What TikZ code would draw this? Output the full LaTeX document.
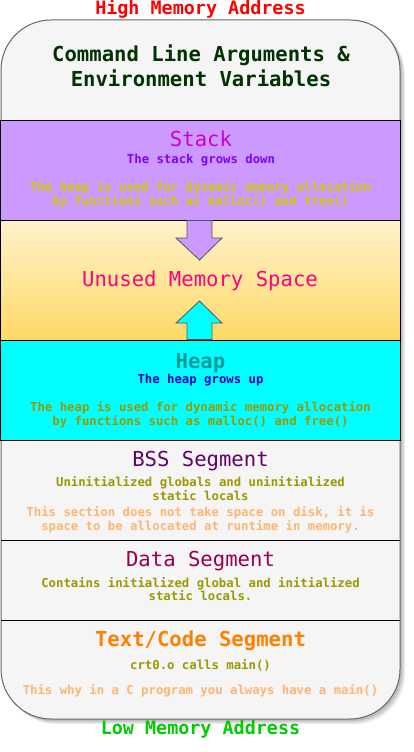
\documentclass[tikz,border=0pt]{standalone}
\usepackage{fontspec}
\newfontfamily\mono{DejaVu Sans Mono}
\definecolor{outerfill}{HTML}{F5F5F5}
\definecolor{outerdraw}{HTML}{666666}
\definecolor{stackfill}{HTML}{CC99FF}
\definecolor{unusedtop}{HTML}{FFF2CC}
\definecolor{unusedbot}{HTML}{FFD966}
\definecolor{heapfill}{HTML}{00FFFF}
\definecolor{highred}{HTML}{FF0000}
\definecolor{lowgreen}{HTML}{00CC00}
\definecolor{cmdgreen}{HTML}{003300}
\definecolor{stacktitle}{HTML}{CC00CC}
\definecolor{stacksub}{HTML}{7F00FF}
\definecolor{stacknote}{HTML}{CCCC00}
\definecolor{unusedpink}{HTML}{FF0080}
\definecolor{heaptitle}{HTML}{009999}
\definecolor{heapsub}{HTML}{0000CC}
\definecolor{heapnote}{HTML}{999900}
\definecolor{bsstitle}{HTML}{660066}
\definecolor{olive}{HTML}{999900}
\definecolor{lightorange}{HTML}{FFB570}
\definecolor{datatitle}{HTML}{99004D}
\definecolor{texttitle}{HTML}{FF8000}
\definecolor{arrowdraw}{HTML}{555555}
\begin{document}
\begin{tikzpicture}[x=1pt,y=-1pt,
  title/.style={font=\mono\fontsize{20.6}{24}\selectfont, anchor=base, inner sep=0pt},
  boldtitle/.style={font=\mono\bfseries\fontsize{20.6}{24}\selectfont, anchor=base, inner sep=0pt},
  small/.style={font=\mono\bfseries\fontsize{12.3}{14}\selectfont, anchor=base, inner sep=0pt},
  addr/.style={font=\mono\bfseries\fontsize{18.4}{22}\selectfont, anchor=base, inner sep=0pt},
  band/.style={draw=black, line width=1pt},
  blockarrow/.style={draw=arrowdraw, line width=0.8pt, line join=miter}]
\useasboundingbox (0,0) rectangle (413,752);
% shadow of the outer box
\foreach \s/\o in {2/0.10,3.5/0.10,5/0.08}{
  \begin{scope}[shift={(\s,\s)}]
    \fill[black, opacity=\o, rounded corners=50pt] (1,20) rectangle (400,719);
  \end{scope}}
% outer box
\draw[fill=outerfill, draw=outerdraw, line width=1pt, rounded corners=50pt] (1,20) rectangle (400,719);
% bands
\draw[band, fill=stackfill] (0,120) rectangle (400,220);
\draw[band, top color=unusedtop, bottom color=unusedbot] (0,220) rectangle (400,340);
\draw[band, fill=heapfill] (0,340) rectangle (400,440);
\draw[band] (1,540) -- (400,540);
\draw[band] (1,620) -- (400,620);
% block arrows
\draw[blockarrow, fill=stackfill] (187,220.5) -- (212,220.5) -- (212,238) -- (222,238) -- (199.5,260) -- (176,238) -- (187,238) -- cycle;
\draw[blockarrow, fill=heapfill] (187,339.5) -- (187,323) -- (176,323) -- (199.5,301) -- (222,323) -- (212,323) -- (212,339.5) -- cycle;
% address labels
\node[addr, text=highred] (high) at (200.5,15) {High Memory Address};
\node[addr, text=lowgreen] (low) at (200.5,734) {Low Memory Address};
% command line
\node[boldtitle, text=cmdgreen] (cmd1) at (201,62) {Command Line Arguments \&};
\node[boldtitle, text=cmdgreen] (cmd2) at (201,86) {Environment Variables};
% stack
\node[title, text=stacktitle] (stack) at (201,146.7) {Stack};
\node[small, text=stacksub] (stacksub) at (201,163.3) {The stack grows down};
\node[small, text=stacknote] (stacknote1) at (200.5,191.7) {The heap is used for dynamic memory allocation};
\node[small, text=stacknote] (stacknote2) at (200.5,205.7) {by functions such as malloc() and free()};
% unused
\node[title, text=unusedpink] (unused) at (200,286.7) {Unused Memory Space};
% heap
\node[boldtitle, text=heaptitle] (heap) at (200.5,368) {Heap};
\node[small, text=heapsub] (heapsub) at (200.5,383.7) {The heap grows up};
\node[small, text=heapnote] (heapnote1) at (200.5,411.7) {The heap is used for dynamic memory allocation};
\node[small, text=heapnote] (heapnote2) at (200.5,425.7) {by functions such as malloc() and free()};
% bss
\node[title, text=bsstitle] (bss) at (200.5,466.7) {BSS Segment};
\node[small, text=olive] (bss1) at (200.5,486.7) {Uninitialized globals and uninitialized};
\node[small, text=olive] (bss2) at (200.5,500.7) {static locals};
\node[small, text=lightorange] (bss3) at (200.5,516.7) {This section does not take space on disk, it is};
\node[small, text=lightorange] (bss4) at (200.5,530.7) {space to be allocated at runtime in memory.};
% data
\node[title, text=datatitle] (data) at (200.5,566.7) {Data Segment};
\node[small, text=olive] (data1) at (200.5,587.3) {Contains initialized global and initialized};
\node[small, text=olive] (data2) at (200.5,600.7) {static locals.};
% text
\node[boldtitle, text=texttitle] (code) at (200.5,646.7) {Text/Code Segment};
\node[small, text=olive] (code1) at (200.5,669) {crt0.o calls main()};
\node[small, text=lightorange] (code2) at (200.5,694) {This why in a C program you always have a main()};
\end{tikzpicture}
\end{document}
